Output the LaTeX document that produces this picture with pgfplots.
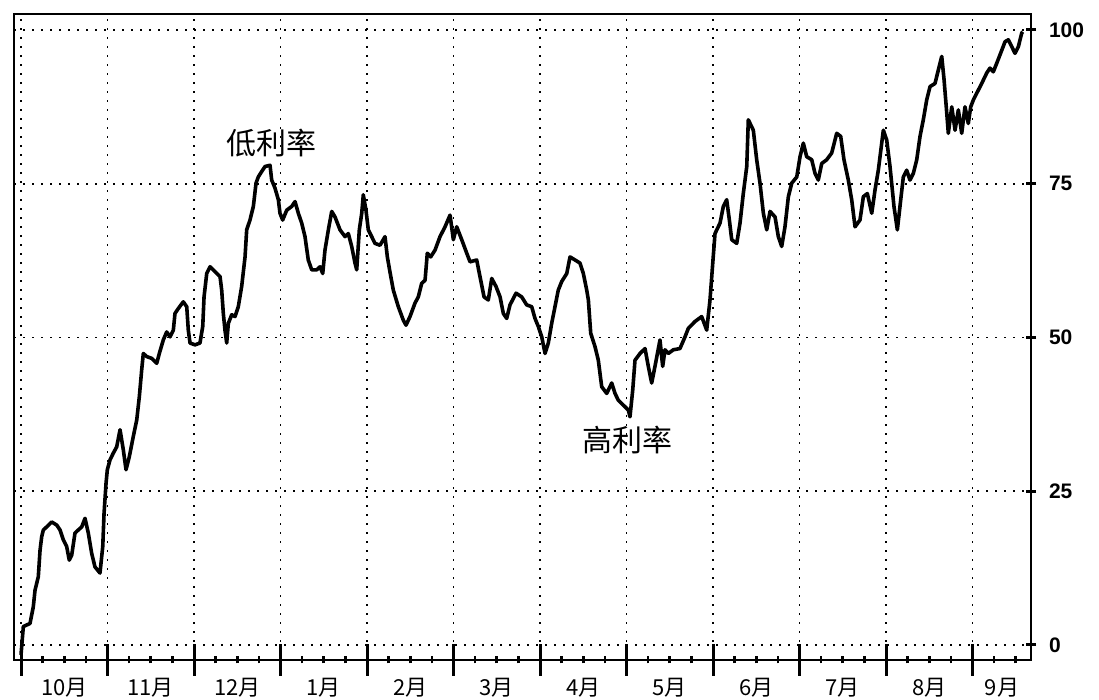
\documentclass[border=0pt]{standalone}
\usepackage{pgfplots}
\pgfplotsset{compat=1.18}
\usepackage{fontspec}
\setmainfont{Liberation Sans}
\newfontfamily\cjk{Noto Sans CJK SC}
\begin{document}
\begin{tikzpicture}
\useasboundingbox (-7pt,-20pt) rectangle (542.5pt,330pt);
\begin{axis}[
  at={(0,0)}, anchor=south west,
  scale only axis, width=508.5pt, height=323pt,
  xmin=-0.081, xmax=11.676, ymin=-2.44, ymax=102.6,
  clip=false,
  axis line style={line width=1.4pt},
  xtick={0,1,...,11}, xticklabels={},
  minor xtick={0.25,0.5,...,11.5},
  xtick pos=bottom, ytick pos=right, yticklabel pos=right,
  tick align=center,
  major tick length=16pt, minor tick length=3.5pt,
  major tick style={line width=1.5pt, black},
  minor tick style={line width=1.3pt, black},
  xmajorgrids,
  ytick=\empty,
  extra y ticks={0,25,50,75,100},
  extra y tick style={major tick length=5pt, grid=major},
  grid style={black, line width=0.8pt, dash pattern=on 1.2pt off 3.3pt},
  /pgf/number format/assume math mode=true,
  yticklabel style={font=\bfseries\fontsize{10.5}{12}\selectfont, xshift=3pt},
]
\addplot[black, line width=1.8pt, line join=round] coordinates {
(0.000,-1.6) (0.027,3.0) (0.104,3.5) (0.142,6.2) (0.162,8.9) (0.200,11.1) (0.220,15.4) (0.239,17.6)
(0.258,18.7) (0.297,19.2) (0.355,20.0) (0.413,19.5) (0.451,18.7) (0.489,17.1) (0.528,16.0) (0.558,13.8)
(0.586,14.6) (0.624,18.2) (0.662,18.7) (0.702,19.2) (0.740,20.6) (0.778,18.2) (0.817,14.9) (0.855,12.7)
(0.913,11.7) (0.945,16.0) (0.960,21.4) (0.983,26.3) (0.998,28.5) (1.029,30.1) (1.067,31.2) (1.106,32.2)
(1.145,35.0) (1.183,31.7) (1.214,28.5) (1.252,30.6) (1.298,33.9) (1.338,36.6) (1.368,40.4) (1.395,44.7)
(1.414,47.4) (1.453,46.9) (1.511,46.6) (1.569,45.8) (1.599,47.4) (1.645,49.6) (1.684,50.9) (1.723,50.1)
(1.761,51.2) (1.780,53.9) (1.818,54.7) (1.876,55.8) (1.916,55.0) (1.934,51.2) (1.954,49.1) (2.012,48.8)
(2.069,49.1) (2.101,51.8) (2.116,56.6) (2.147,60.4) (2.185,61.5) (2.243,60.7) (2.301,59.9) (2.320,57.7)
(2.339,53.9) (2.358,51.2) (2.378,49.1) (2.397,52.3) (2.436,53.7) (2.474,53.4) (2.512,55.0) (2.551,58.3)
(2.590,63.1) (2.609,67.5) (2.647,69.1) (2.686,71.3) (2.717,75.1) (2.743,76.1) (2.783,77.0) (2.821,77.8)
(2.879,78.0) (2.898,75.6) (2.936,74.3) (2.975,72.4) (2.994,70.2) (3.025,69.1) (3.072,70.7) (3.129,71.3)
(3.168,72.1) (3.206,70.2) (3.245,68.6) (3.283,66.4) (3.321,62.6) (3.361,61.0) (3.418,61.0) (3.457,61.5)
(3.488,60.4) (3.514,64.2) (3.553,67.5) (3.592,70.5) (3.630,69.6) (3.688,67.5) (3.746,66.4) (3.784,66.9)
(3.823,64.8) (3.861,62.1) (3.881,61.0) (3.911,67.5) (3.939,70.2) (3.957,73.2) (3.988,70.7) (4.015,67.5)
(4.054,66.4) (4.092,65.3) (4.150,65.0) (4.188,65.9) (4.208,66.4) (4.235,63.1) (4.266,60.6) (4.304,57.7)
(4.362,55.0) (4.420,52.8) (4.451,52.0) (4.497,53.4) (4.555,55.6) (4.593,56.6) (4.632,58.8) (4.671,59.3)
(4.697,63.7) (4.736,63.1) (4.786,64.2) (4.844,66.4) (4.902,68.0) (4.960,69.9) (4.998,65.9) (5.037,68.0)
(5.095,65.9) (5.153,63.7) (5.191,62.3) (5.268,62.6) (5.306,59.9) (5.353,56.6) (5.402,56.1) (5.442,59.6)
(5.491,58.3) (5.538,56.6) (5.576,53.9) (5.615,53.1) (5.653,55.3) (5.723,57.2) (5.788,56.6) (5.846,55.3)
(5.904,55.0) (5.942,53.1) (5.980,51.8) (6.020,50.1) (6.058,47.4) (6.096,49.1) (6.135,52.3) (6.173,55.0)
(6.211,57.7) (6.251,59.1) (6.309,60.4) (6.347,63.1) (6.405,62.6) (6.462,62.1) (6.501,60.4) (6.540,57.7)
(6.559,56.1) (6.586,50.7) (6.636,48.5) (6.674,46.3) (6.713,42.0) (6.771,40.9) (6.829,42.6) (6.867,40.9)
(6.905,39.8) (6.963,39.0) (7.021,38.2) (7.040,37.1) (7.072,41.5) (7.098,46.3) (7.156,47.4) (7.214,48.2)
(7.252,45.3) (7.291,42.6) (7.329,45.3) (7.387,49.6) (7.418,45.3) (7.445,48.0) (7.483,47.4) (7.541,48.0)
(7.618,48.2) (7.676,50.1) (7.715,51.5) (7.792,52.6) (7.869,53.4) (7.927,51.2) (7.965,56.1) (7.997,62.1)
(8.023,66.9) (8.081,68.6) (8.119,71.3) (8.158,72.4) (8.189,69.1) (8.216,65.9) (8.274,65.3) (8.312,68.6)
(8.350,73.4) (8.390,77.8) (8.408,85.4) (8.466,83.7) (8.505,78.9) (8.543,75.1) (8.582,70.2) (8.621,67.5)
(8.659,70.5) (8.717,69.6) (8.755,66.4) (8.794,64.8) (8.832,68.0) (8.871,72.9) (8.910,75.1) (8.968,76.1)
(9.006,79.4) (9.044,81.6) (9.083,79.4) (9.141,78.9) (9.179,76.7) (9.217,75.6) (9.257,78.3) (9.314,78.9)
(9.372,80.0) (9.430,83.2) (9.476,82.7) (9.514,78.9) (9.564,75.6) (9.603,72.4) (9.642,68.0) (9.699,69.1)
(9.738,72.9) (9.784,73.4) (9.835,70.2) (9.873,74.0) (9.911,77.2) (9.969,83.7) (10.008,82.1) (10.046,77.8)
(10.092,71.3) (10.131,67.5) (10.170,72.4) (10.200,76.1) (10.239,77.2) (10.277,75.6) (10.316,76.7) (10.355,78.9)
(10.393,82.7) (10.431,85.4) (10.470,88.6) (10.509,90.8) (10.566,91.3) (10.605,93.5) (10.644,95.7) (10.671,91.9)
(10.702,86.5) (10.720,83.2) (10.760,87.5) (10.798,83.7) (10.836,87.0) (10.875,83.2) (10.913,87.5) (10.951,84.8)
(10.979,87.5) (11.009,88.6) (11.048,89.7) (11.106,91.3) (11.164,93.0) (11.202,93.8) (11.240,93.2) (11.280,94.6)
(11.338,96.7) (11.376,98.1) (11.414,98.4) (11.453,97.3) (11.491,96.2) (11.530,97.3) (11.569,99.5) (11.581,99.7)
};
\node[font=\cjk\fontsize{15}{16}\selectfont] at (axis cs:2.90,81.6) {低利率};
\node[font=\cjk\fontsize{15}{16}\selectfont] at (axis cs:7.006,33.3) {高利率};
\begin{scope}[every node/.style={font=\cjk\fontsize{11}{12}\selectfont, yshift=-14pt}]
\node at (axis cs:0.5,-2.44) {10月};
\node at (axis cs:1.5,-2.44) {11月};
\node at (axis cs:2.5,-2.44) {12月};
\node at (axis cs:3.5,-2.44) {1月};
\node at (axis cs:4.5,-2.44) {2月};
\node at (axis cs:5.5,-2.44) {3月};
\node at (axis cs:6.5,-2.44) {4月};
\node at (axis cs:7.5,-2.44) {5月};
\node at (axis cs:8.5,-2.44) {6月};
\node at (axis cs:9.5,-2.44) {7月};
\node at (axis cs:10.5,-2.44) {8月};
\node at (axis cs:11.34,-2.44) {9月};
\end{scope}
\end{axis}
\end{tikzpicture}
\end{document}
